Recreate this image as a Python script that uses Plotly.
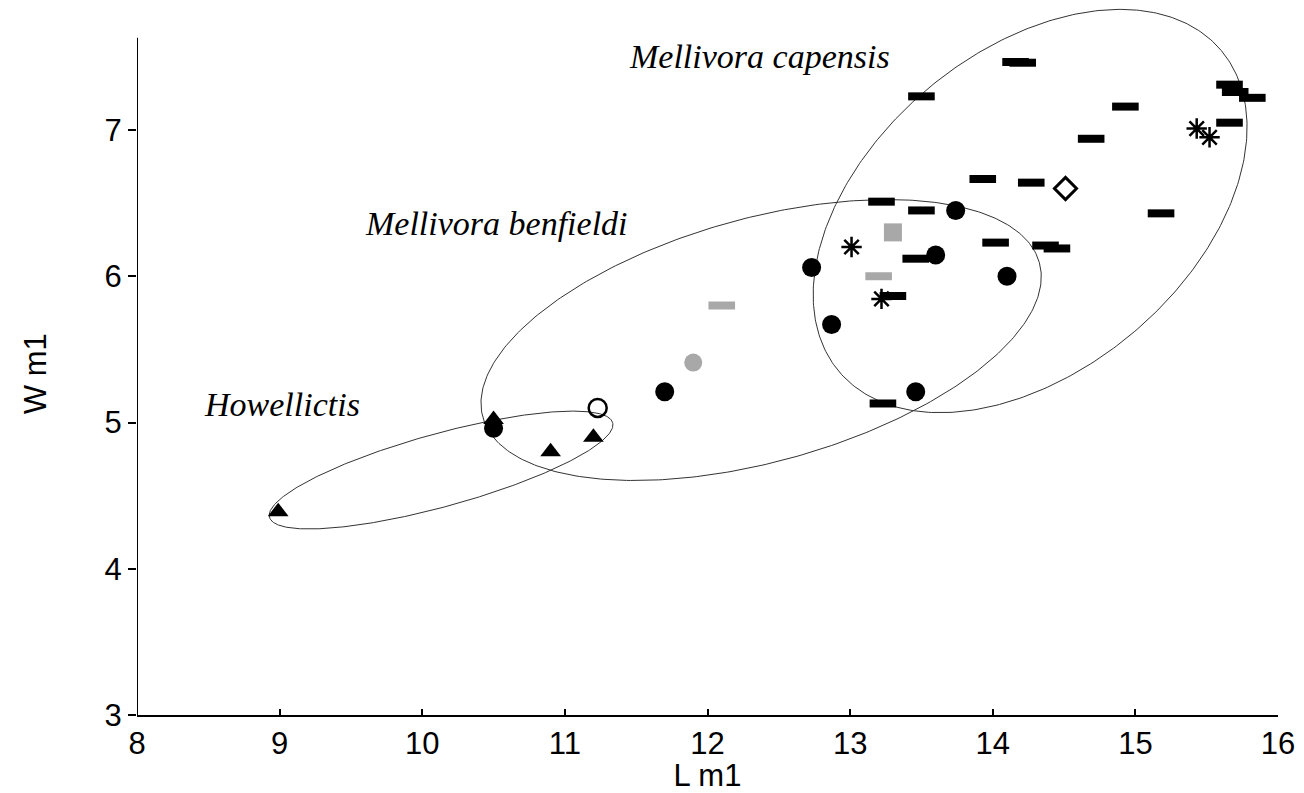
import numpy as np
import plotly.graph_objects as go

# ---------------- data ----------------
# Mellivora capensis (black bars)
cap_x = [14.16, 14.21, 13.50, 15.66, 15.70, 15.82, 14.93, 15.66, 14.69, 13.93, 14.27,
         15.18, 13.22, 13.50, 14.02, 14.37, 14.45, 13.46, 13.30, 13.23]
cap_y = [7.465, 7.46, 7.23, 7.31, 7.26, 7.22, 7.16, 7.05, 6.94, 6.665, 6.64,
         6.43, 6.51, 6.45, 6.23, 6.21, 6.19, 6.12, 5.865, 5.13]
# black circles
circ_x = [13.74, 13.60, 14.10, 12.73, 12.87, 13.46, 11.70, 10.50]
circ_y = [6.45, 6.145, 6.00, 6.06, 5.67, 5.21, 5.21, 4.96]
# grey bars
gbar_x = [13.20, 12.10]
gbar_y = [6.00, 5.80]
# grey square
gsq_x = [13.30]
gsq_y = [6.30]
# grey circle
gcirc_x = [11.90]
gcirc_y = [5.41]
# open circle
ocirc_x = [11.23]
ocirc_y = [5.10]
# open diamond
odia_x = [14.51]
odia_y = [6.60]
# Howellictis (triangles)
tri_x = [8.99, 10.50, 10.90, 11.20]
tri_y = [4.39, 5.02, 4.80, 4.90]
# asterisks
ast_x = [13.01, 13.22, 15.43, 15.52]
ast_y = [6.20, 5.845, 7.01, 6.95]

# ellipses: centre x, centre y, semi-major, semi-minor (in x units), angle (deg)
ell_names = ["Mellivora capensis", "Mellivora benfieldi", "Howellictis"]
ell_cx = [14.262, 12.376, 10.132]
ell_cy = [6.446, 5.564, 4.675]
ell_a = [1.750, 2.025, 1.248]
ell_b = [1.118, 0.853, 0.256]
ell_ang = [40.0, 15.55, 15.4]

# group labels
lab_text = ["Mellivora capensis", "Mellivora benfieldi", "Howellictis"]
lab_x = [12.362, 10.518, 9.017]
lab_y = [7.506, 6.364, 5.12]

x_ticks = [8, 9, 10, 11, 12, 13, 14, 15, 16]
y_ticks = [3, 4, 5, 6, 7]

# ---------------- layout geometry ----------------
W, H = 1304, 793
ML, MR, MT, MB = 137, 26, 5, 78
XR = [8, 16]
plot_w = W - ML - MR
plot_h = H - MT - MB
xpx = plot_w / (XR[1] - XR[0])
ypx = 146.25
YR = [3, 3 + plot_h / ypx]
yx = xpx / ypx  # convert x-units lengths to y-units

fig = go.Figure()

# ellipses
t = np.linspace(0, 2 * np.pi, 400)
for cx, cy, a, b, ang in zip(ell_cx, ell_cy, ell_a, ell_b, ell_ang):
    th = np.deg2rad(ang)
    u = a * np.cos(t) * np.cos(th) - b * np.sin(t) * np.sin(th)
    v = a * np.cos(t) * np.sin(th) + b * np.sin(t) * np.cos(th)
    fig.add_trace(go.Scatter(x=cx + u, y=cy + v * yx, mode="lines",
                             line=dict(color="#333333", width=1),
                             hoverinfo="skip", showlegend=False))

BLACK = "#000000"
GREY = "#a8a8a8"

def add(x, y, **marker):
    fig.add_trace(go.Scatter(x=x, y=y, mode="markers", marker=marker,
                             showlegend=False, cliponaxis=False))

add(cap_x, cap_y, symbol="line-ew", size=19, color=BLACK, line=dict(color=BLACK, width=8))
add(gbar_x, gbar_y, symbol="line-ew", size=19, color=GREY, line=dict(color=GREY, width=8))
add(gsq_x, gsq_y, symbol="square", size=18, color=GREY, line=dict(width=0))
add(circ_x, circ_y, symbol="circle", size=19, color=BLACK, line=dict(width=0))
add(gcirc_x, gcirc_y, symbol="circle", size=18, color=GREY, line=dict(width=0))
add(ocirc_x, ocirc_y, symbol="circle-open", size=18, color=BLACK, line=dict(color=BLACK, width=2.5))
add(odia_x, odia_y, symbol="diamond-open", size=17, color=BLACK, line=dict(color=BLACK, width=3))
add(tri_x, tri_y, symbol="triangle-up", size=18, color=BLACK, line=dict(width=0))
add(ast_x, ast_y, symbol="asterisk-open", size=17, color=BLACK, line=dict(color=BLACK, width=2.5))

# group labels (italic serif)
for txt, x, y in zip(lab_text, lab_x, lab_y):
    fig.add_annotation(x=x, y=y, xref="x", yref="y", text="<i>" + txt + "</i>",
                       showarrow=False,
                       font=dict(family="Liberation Serif", size=34, color="black"),
                       xanchor="center", yanchor="middle")

# y-axis line (stops below the top of the plotting area, as in the reference)
fig.add_shape(type="line", xref="x", yref="y", x0=8, x1=8, y0=3, y1=7.63,
              line=dict(color="black", width=2))

# y axis title
fig.add_annotation(x=0, y=5.33, xref="paper", yref="y", text="W m1", textangle=-90,
                   showarrow=False, xshift=-102, xanchor="center", yanchor="middle",
                   font=dict(family="Liberation Sans", size=31, color="black"))

fig.update_layout(
    width=W, height=H,
    margin=dict(l=ML, r=MR, t=MT, b=MB),
    plot_bgcolor="white", paper_bgcolor="white",
    xaxis=dict(range=XR, tickvals=x_ticks, showgrid=False, zeroline=False,
               showline=True, linecolor="black", linewidth=2,
               ticks="inside", ticklen=6, tickwidth=2, tickcolor="black",
               tickfont=dict(family="Liberation Sans", size=31, color="black"),
               title=dict(text="L m1", standoff=0,
                          font=dict(family="Liberation Sans", size=31, color="black"))),
    yaxis=dict(range=YR, tickvals=y_ticks, showgrid=False, zeroline=False,
               showline=False,
               ticks="outside", ticklen=8, tickwidth=2, tickcolor="black",
               tickfont=dict(family="Liberation Sans", size=31, color="black")),
)

fig.write_html("out.html", config={"displayModeBar": False})
# remove the default page margin so the figure fills the window exactly
with open("out.html", "r", encoding="utf-8") as f:
    html = f.read()
html = html.replace("<body>", '<body style="margin:0;padding:0;overflow:hidden">', 1)
with open("out.html", "w", encoding="utf-8") as f:
    f.write(html)
